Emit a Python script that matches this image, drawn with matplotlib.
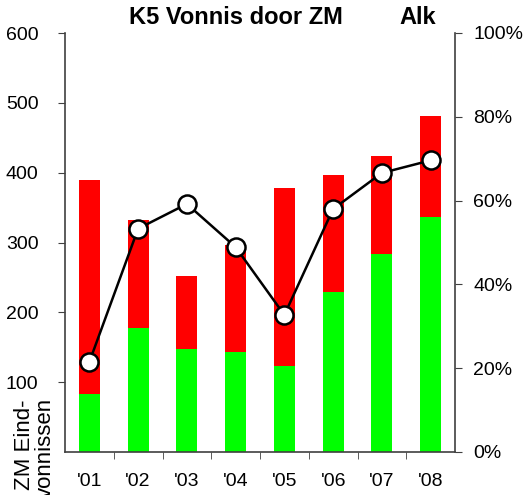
import matplotlib
matplotlib.use("Agg")
import matplotlib.pyplot as plt
import numpy as np

plt.rcParams['font.family'] = ['Liberation Sans', 'DejaVu Sans']

years = ["'01", "'02", "'03", "'04", "'05", "'06", "'07", "'08"]
green_vals = [83, 178, 148, 143, 123, 229, 284, 337]
red_vals = [307, 154, 104, 154, 255, 168, 140, 144]
share_pct = [21.5, 53.3, 59.2, 48.9, 32.7, 58.0, 66.6, 69.6]

W, H = 528, 495
fig = plt.figure(figsize=(W / 100, H / 100), dpi=100)
ax = fig.add_axes([65 / W, (H - 452) / H, 390 / W, 419 / H])

x = np.arange(len(years))
bw = 0.43
ax.bar(x, green_vals, bw, color='#00ff00', zorder=2)
ax.bar(x, red_vals, bw, bottom=green_vals, color='#ff0000', zorder=2)

ax.set_xlim(-0.5, len(years) - 0.5)
ax.set_ylim(0, 600)
ax.set_yticks([100, 200, 300, 400, 500, 600])
ax.set_xticks(x)
ax.set_xticklabels(years)
ax.set_xticks(np.arange(0.5, len(years) - 0.5, 1), minor=True)
ax.tick_params(axis='x', which='major', length=0, pad=15, labelsize=14)
ax.tick_params(axis='x', which='minor', length=5, direction='out', color='#404040')
ax.tick_params(axis='y', length=5, direction='out', pad=14, labelsize=14, color='#404040')
for s in ['top', 'right']:
    ax.spines[s].set_visible(False)
for s in ['left', 'bottom']:
    ax.spines[s].set_color('#404040')
    ax.spines[s].set_linewidth(1.2)

ax2 = ax.twinx()
ax2.set_ylim(0, 100)
ax2.set_yticks([0, 20, 40, 60, 80, 100])
ax2.set_yticklabels([f"{v}%" for v in [0, 20, 40, 60, 80, 100]])
ax2.tick_params(axis='y', length=5, direction='out', pad=8, labelsize=14, color='#404040')
for s in ['top', 'left', 'bottom']:
    ax2.spines[s].set_visible(False)
ax2.spines['right'].set_color('#404040')
ax2.spines['right'].set_linewidth(1.2)
ax2.plot(x, share_pct, color='black', lw=1.8, marker='o', markersize=13,
         markerfacecolor='white', markeredgecolor='black', markeredgewidth=1.8,
         zorder=5, clip_on=False)

fig.text(236 / W, 1 - 18 / H, 'K5 Vonnis door ZM', ha='center', va='center',
         fontsize=17, fontweight='bold')
fig.text(418 / W, 1 - 18 / H, 'Alk', ha='center', va='center',
         fontsize=17, fontweight='bold')
fig.text(25 / W, 1 - 400 / H, 'ZM Eind-', rotation=90, ha='center',
         va='top', fontsize=16)
fig.text(45 / W, 1 - 398 / H, 'vonnissen', rotation=90, ha='center',
         va='top', fontsize=16)

fig.savefig('out.png', dpi=100)
